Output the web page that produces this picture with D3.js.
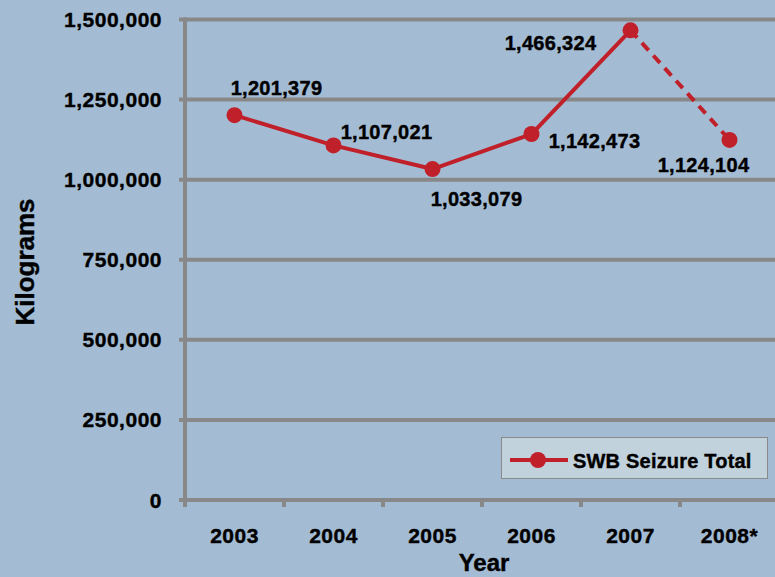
<!DOCTYPE html>
<html>
<head>
<meta charset="utf-8">
<script src="https://cdn.jsdelivr.net/npm/d3@7"></script>
<style>
  html, body { margin: 0; padding: 0; background: #a4bcd3; }
  svg { display: block; font-family: "Liberation Sans", Arial, sans-serif; font-weight: bold; }
  svg text { stroke: #000; stroke-width: 0.4px; }
</style>
</head>
<body>
<div id="chart"></div>
<script>
// data
const years = ["2003", "2004", "2005", "2006", "2007", "2008*"];
const seizures = [1201379, 1107021, 1033079, 1142473, 1466324, 1124104];
const yTicks = [0, 250000, 500000, 750000, 1000000, 1250000, 1500000];
const seriesName = "SWB Seizure Total";

// label placement relative to each point (dx, dy)
const labelOffsets = [[42, -20], [53, -6], [44, 37], [63, 14], [-80, 20], [-26, 32]];

const W = 775, H = 577;
const red = "#c0202a", grid = "#888888";

const svg = d3.select("#chart").append("svg")
    .attr("width", W).attr("height", H);

svg.append("rect").attr("width", W).attr("height", H).attr("fill", "#a4bcd3");

const x = d3.scaleBand().domain(years).range([185, 779]);
const y = d3.scaleLinear().domain([0, 1500000]).range([500, 19.5]);
const fmt = d3.format(",");

// gridlines
svg.append("g")
    .selectAll("line")
    .data(yTicks)
    .enter().append("line")
    .attr("x1", 179).attr("x2", W)
    .attr("y1", d => y(d)).attr("y2", d => y(d))
    .attr("stroke", grid).attr("stroke-width", 4);

// y axis line
svg.append("line")
    .attr("x1", 185).attr("x2", 185)
    .attr("y1", y(1500000) - 2).attr("y2", y(0) + 7)
    .attr("stroke", grid).attr("stroke-width", 4);

// x ticks between categories
svg.append("g")
    .selectAll("line")
    .data(years.slice(1))
    .enter().append("line")
    .attr("x1", d => x(d)).attr("x2", d => x(d))
    .attr("y1", y(0)).attr("y2", y(0) + 7)
    .attr("stroke", grid).attr("stroke-width", 4);

// y tick labels
svg.append("g")
    .selectAll("text")
    .data(yTicks)
    .enter().append("text")
    .attr("x", 162).attr("y", d => y(d))
    .attr("dy", "0.36em")
    .attr("text-anchor", "end")
    .attr("font-size", 21)
    .attr("letter-spacing", 0.5)
    .text(d => fmt(d));

// x tick labels
svg.append("g")
    .selectAll("text")
    .data(years)
    .enter().append("text")
    .attr("x", d => x(d) + x.bandwidth() / 2)
    .attr("y", 543)
    .attr("text-anchor", "middle")
    .attr("font-size", 21)
    .attr("letter-spacing", 0.5)
    .text(d => d);

// axis titles
svg.append("text")
    .attr("x", 484).attr("y", 571)
    .attr("text-anchor", "middle")
    .attr("font-size", 24)
    .text("Year");

svg.append("text")
    .attr("transform", "translate(34,262) rotate(-90)")
    .attr("text-anchor", "middle")
    .attr("font-size", 26)
    .text("Kilograms");

// series
const pts = years.map((yr, i) => [x(yr) + x.bandwidth() / 2, y(seizures[i])]);
const line = d3.line();

svg.append("path")
    .attr("d", line(pts.slice(0, 5)))
    .attr("fill", "none").attr("stroke", red)
    .attr("stroke-width", 4).attr("stroke-linejoin", "round");

svg.append("path")
    .attr("d", line(pts.slice(4)))
    .attr("fill", "none").attr("stroke", red)
    .attr("stroke-width", 4).attr("stroke-dasharray", "10,7");

svg.append("g")
    .selectAll("circle")
    .data(pts)
    .enter().append("circle")
    .attr("cx", d => d[0]).attr("cy", d => d[1])
    .attr("r", 8).attr("fill", red);

// data labels
svg.append("g")
    .selectAll("text")
    .data(seizures)
    .enter().append("text")
    .attr("x", (d, i) => pts[i][0] + labelOffsets[i][0])
    .attr("y", (d, i) => pts[i][1] + labelOffsets[i][1])
    .attr("text-anchor", "middle")
    .attr("font-size", 20)
    .attr("letter-spacing", 0.3)
    .text(d => fmt(d));

// legend
const lg = svg.append("g");
lg.append("rect")
    .attr("x", 501.5).attr("y", 437.5)
    .attr("width", 266).attr("height", 41)
    .attr("fill", "#c2d2dc").attr("stroke", "#8a8a8a").attr("stroke-width", 1);
lg.append("line")
    .attr("x1", 510).attr("x2", 568).attr("y1", 460).attr("y2", 460)
    .attr("stroke", red).attr("stroke-width", 4);
lg.append("circle")
    .attr("cx", 538).attr("cy", 460).attr("r", 8).attr("fill", red);
lg.append("text")
    .attr("x", 573).attr("y", 468)
    .attr("font-size", 20)
    .attr("letter-spacing", 0.2)
    .text(seriesName);
</script>
</body>
</html>
